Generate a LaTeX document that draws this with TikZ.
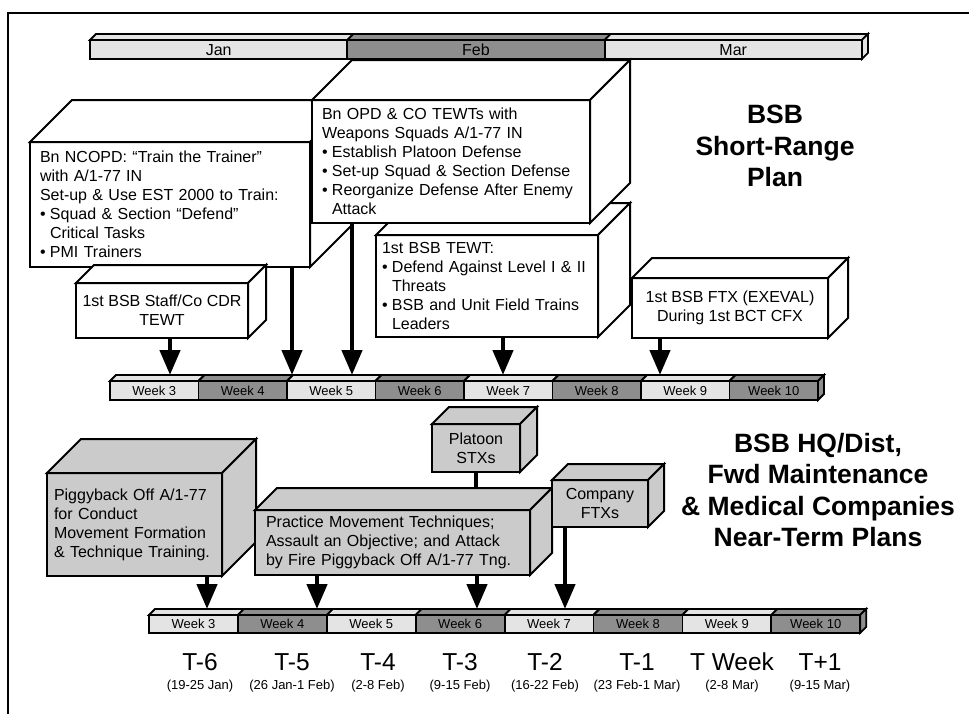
\documentclass[tikz,border=0pt]{standalone}
\usepackage{fontspec}
\setmainfont{Liberation Sans}
\usetikzlibrary{arrows.meta}

\definecolor{lightbar}{HTML}{E4E4E4}
\definecolor{darkbar}{HTML}{8E8E8E}
\definecolor{boxgray}{HTML}{CBCBCB}

\newcommand{\bitem}{\makebox[10pt][l]{\textbullet}}
\newcommand{\bcont}{\hspace*{10pt}}
% top and right faces of a box node: name, depth, fill
\newcommand{\cubefaces}[3]{%
  \draw[face, fill=#3] (#1.north west) -- ++(#2,-#2) -- ([shift={(#2,-#2)}]#1.north east) -- (#1.north east) -- cycle;
  \draw[face, fill=#3] (#1.north east) -- ++(#2,-#2) -- ([shift={(#2,-#2)}]#1.south east) -- (#1.south east) -- cycle;}

\begin{document}
\begin{tikzpicture}[
    x=1pt, y=-1pt,
    >={Triangle[length=25pt,width=20pt]},
    every node/.style = {font=\fontsize{16}{19}\selectfont},
    cube/.style       = {draw, line width=2pt, inner sep=0pt, outer sep=0pt, anchor=north west},
    face/.style       = {draw, line width=2pt},
    note/.style       = {cube, fill=white, align=left},
    tag/.style        = {cube, fill=white, align=center},
    barseg/.style     = {cube, line width=1.8pt, minimum height=19pt,
                         text height=9.5pt, text depth=0pt,
                         font=\fontsize{13}{14}\selectfont},
    barface/.style    = {draw, line width=1.8pt},
    arr/.style        = {->, line width=4.5pt},
    link/.style       = {line width=4.5pt},
    title/.style      = {align=center, font=\fontsize{26.5}{31.5}\selectfont\bfseries},
    tlab/.style       = {font=\fontsize{24.5}{28}\selectfont},
    dlab/.style       = {font=\fontsize{13}{15}\selectfont}
  ]
  \useasboundingbox (0,0) rectangle (969,713);
  \draw[line width=2.5pt] (8,730) -- (8,13) -- (990,13);

  %--- months ---
  \foreach \m/\c [count=\k from 0] in {Jan/lightbar, Feb/darkbar, Mar/lightbar} {
    \node[barseg, fill=\c, minimum width=257.3pt, text height=11.5pt,
          font=\fontsize{16}{18}\selectfont]
      (mon\k) at (90+257.3*\k,40) {\m};
    \draw[barface, fill=\c] (mon\k.north west) -- ++(6,-6)
      -- ([shift={(6,-6)}]mon\k.north east) -- (mon\k.north east) -- cycle;
  }
  \draw[barface, fill=lightbar] (mon2.north east) -- ++(6,-6)
    -- ([shift={(6,-6)}]mon2.south east) -- (mon2.south east) -- cycle;

  %--- short-range boxes ---
  \node[note, text width=260pt, inner xsep=10pt, minimum height=125pt] (ncopd) at (30,142)
    {Bn NCOPD: “Train the Trainer”\\
     with A/1-77 IN\\
     Set-up \& Use EST 2000 to Train:\\
     \bitem Squad \& Section “Defend”\\
     \bcont Critical Tasks\\
     \bitem PMI Trainers};
  \cubefaces{ncopd}{42}{white}

  \node[note, text width=210pt, inner xsep=6pt, minimum height=102pt] (tewt) at (376,235)
    {1st BSB TEWT:\\
     \bitem Defend Against Level I \& II\\
     \bcont Threats\\
     \bitem BSB and Unit Field Trains\\
     \bcont Leaders};
  \cubefaces{tewt}{32}{white}

  \node[note, text width=258pt, inner xsep=10pt, minimum height=123pt] (opd) at (312,100)
    {Bn OPD \& CO TEWTs with\\
     Weapons Squads A/1-77 IN\\
     \bitem Establish Platoon Defense\\
     \bitem Set-up Squad \& Section Defense\\
     \bitem Reorganize Defense After Enemy\\
     \bcont Attack};
  \cubefaces{opd}{40}{white}

  \node[tag, minimum width=172pt, minimum height=55pt] (staff) at (76,283)
    {1st BSB Staff/Co CDR\\TEWT};
  \cubefaces{staff}{18}{white}

  \node[tag, minimum width=196pt, minimum height=60pt] (ftx) at (632,278)
    {1st BSB FTX (EXEVAL)\\During 1st BCT CFX};
  \cubefaces{ftx}{20}{white}

  %--- short-range weeks ---
  \foreach \w [count=\k from 0] in {3,...,10} {
    \ifodd\w \def\wc{lightbar}\else \def\wc{darkbar}\fi
    \node[barseg, fill=\wc, minimum width=88.5pt] (sw\w) at (110+88.5*\k,381) {Week \w};
    \draw[barface, fill=\wc] (sw\w.north west) -- ++(6,-6)
      -- ([shift={(6,-6)}]sw\w.north east) -- (sw\w.north east) -- cycle;
  }
  \draw[barface, fill=darkbar] (sw10.north east) -- ++(6,-6)
    -- ([shift={(6,-6)}]sw10.south east) -- (sw10.south east) -- cycle;

  %--- short-range arrows ---
  \coordinate (stop) at ([yshift=6pt]sw3.north);
  \foreach \src/\dx [count=\k] in {staff.south/8, ncopd.south east/-18,
      opd.south west/40, tewt.south/16, ftx.south west/28} {
    \path ([xshift=\dx pt]\src) coordinate (sa\k);
    \draw[arr] (sa\k) -- (sa\k |- stop);
  }

  \node[title] (srtitle) at (775,146) {BSB\\Short-Range\\Plan};

  %--- near-term boxes ---
  \node[note, fill=boxgray, text width=161pt, inner xsep=7pt, minimum height=103pt] (piggy) at (47,473)
    {Piggyback Off A/1-77\\
     for Conduct\\
     Movement Formation\\
     \& Technique Training.};
  \cubefaces{piggy}{34}{boxgray}

  \node[note, fill=boxgray, text width=253pt, inner xsep=11pt, minimum height=65pt] (practice) at (255,510)
    {Practice Movement Techniques;\\
     Assault an Objective; and Attack\\
     by Fire Piggyback Off A/1-77 Tng.};
  \cubefaces{practice}{22}{boxgray}

  \node[tag, fill=boxgray, minimum width=88pt, minimum height=48pt] (stx) at (432,424)
    {Platoon\\STXs};
  \cubefaces{stx}{17}{boxgray}

  \node[tag, fill=boxgray, minimum width=96pt, minimum height=47pt] (coftx) at (552,480)
    {Company\\FTXs};
  \cubefaces{coftx}{16}{boxgray}

  \coordinate (gtop) at ([shift={(22,-22)}]practice.north west);
  \draw[link] (stx.south) -- (stx.south |- gtop);

  %--- near-term weeks ---
  \foreach \w [count=\k from 0] in {3,...,10} {
    \ifodd\w \def\wc{lightbar}\else \def\wc{darkbar}\fi
    \node[barseg, fill=\wc, minimum width=88.9pt, minimum height=18pt] (nw\w) at (149+88.9*\k,615) {Week \w};
    \draw[barface, fill=\wc] (nw\w.north west) -- ++(6,-6)
      -- ([shift={(6,-6)}]nw\w.north east) -- (nw\w.north east) -- cycle;
  }
  \draw[barface, fill=darkbar] (nw10.north east) -- ++(6,-6)
    -- ([shift={(6,-6)}]nw10.south east) -- (nw10.south east) -- cycle;

  %--- near-term arrows ---
  \coordinate (ntop) at ([yshift=6pt]nw3.north);
  \foreach \src/\dx [count=\k] in {piggy.south east/-15, practice.south west/62,
      practice.south west/222, coftx.south west/13} {
    \path ([xshift=\dx pt]\src) coordinate (na\k);
    \draw[arr] (na\k) -- (na\k |- ntop);
  }

  \node[title] (nttitle) at (818,490)
    {BSB HQ/Dist,\\Fwd Maintenance\\\& Medical Companies\\Near-Term Plans};

  %--- T weeks ---
  \foreach \x/\t/\d [count=\k] in {200/T-6/(19-25 Jan), 292/T-5/(26 Jan-1 Feb),
      378/T-4/(2-8 Feb), 460/T-3/(9-15 Feb), 545/T-2/(16-22 Feb),
      637/T-1/(23 Feb-1 Mar), 732/T Week/(2-8 Mar), 820/T+1/(9-15 Mar)} {
    \node[tlab] (t\k) at (\x,662) {\t};
    \node[dlab] (d\k) at (\x,686) {\d};
  }
\end{tikzpicture}
\end{document}
